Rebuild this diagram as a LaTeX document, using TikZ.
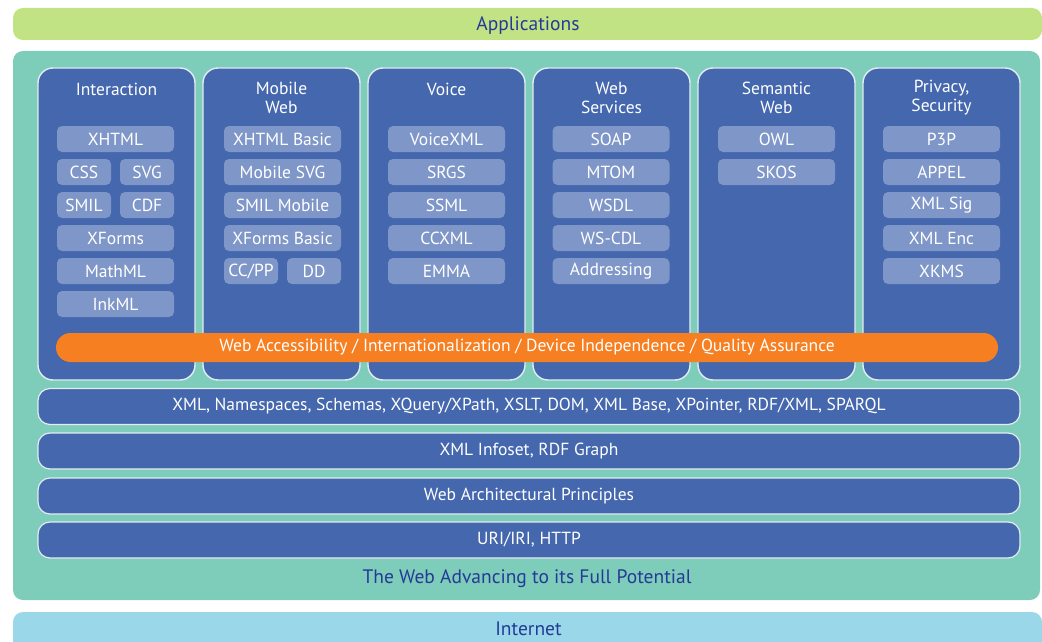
\documentclass[tikz,border=0pt]{standalone}
\usepackage{fontspec}
\setmainfont{PT Sans}
\definecolor{appgreen}{HTML}{C2E383}
\definecolor{tealbg}{HTML}{7ECDBA}
\definecolor{colblue}{HTML}{4467AE}
\definecolor{subblue}{HTML}{7F96C8}
\definecolor{orangebar}{HTML}{F67F22}
\definecolor{netblue}{HTML}{9AD8E9}
\definecolor{darktext}{HTML}{243A96}
\definecolor{edge}{HTML}{E2ECF2}
\tikzset{
  txt/.style={font=\fontsize{17.5}{19}\selectfont},
  column/.style={draw=edge, line width=1.4pt, fill=colblue, rounded corners=15pt, minimum width=157pt, minimum height=312pt, inner sep=0pt},
  head/.style={txt, text=white, align=center, inner sep=0pt},
  sub/.style={fill=subblue, rounded corners=5pt, minimum width=117pt, minimum height=26pt, inner sep=0pt, txt, text=white},
  half/.style={sub, minimum width=54pt},
  band/.style={draw=edge, line width=1.2pt, fill=colblue, rounded corners=12pt, minimum width=982pt, minimum height=36pt, inner sep=0pt, txt, text=white},
  bar/.style={rounded corners=10pt, inner sep=0pt},
  bartext/.style={inner sep=0pt, anchor=base, text=darktext, font=\fontsize{19.5}{22}\selectfont},
}
\begin{document}
\begin{tikzpicture}[x=1pt,y=-1pt]
\useasboundingbox (0,0) rectangle (1042,642);
% top and bottom bars
\node[bar, fill=appgreen, minimum width=1029pt, minimum height=32pt] (apps) at (527.5,24) {};
\node[bartext] (appstext) at (528,30.5) {Applications};
\node[bar, fill=tealbg, minimum width=1027pt, minimum height=549pt] (web) at (526.5,325.5) {};
\node[bar, fill=netblue, minimum width=1029pt, minimum height=40pt] (net) at (527.5,632) {};
\node[bartext] (nettext) at (528.5,635) {Internet};
\node[bartext] (potential) at (527,583.5) {The Web Advancing to its Full Potential};
% columns
\foreach \n/\cx in {c1/116.5,c2/281.5,c3/446.5,c4/611.5,c5/776.5,c6/941.5}
  \node[column] (\n) at (\cx,224) {};
% headers
\node[head] (h1) at (116.5,89) {Interaction};
\node[head] (h2) at (281.5,98) {Mobile\\Web};
\node[head] (h3) at (446.5,89) {Voice};
\node[head] (h4) at (611.5,98) {Web\\Services};
\node[head] (h5) at (776.5,98) {Semantic\\Web};
\node[head] (h6) at (941.5,98) {Privacy,\\Security};
% Interaction
\node[sub] (xhtml) at (115.5,139) {XHTML};
\node[half] (css) at (84,172) {CSS};
\node[half] (svg) at (147,172) {SVG};
\node[half] (smil) at (84,205) {SMIL};
\node[half] (cdf) at (147,205) {CDF};
\node[sub] (xforms) at (115.5,238) {XForms};
\node[sub] (mathml) at (115.5,271) {MathML};
\node[sub] (inkml) at (115.5,304) {InkML};
% Mobile Web
\node[sub] (xhtmlb) at (282.5,139) {XHTML Basic};
\node[sub] (msvg) at (282.5,172) {Mobile SVG};
\node[sub] (smilm) at (282.5,205) {SMIL Mobile};
\node[sub] (xformsb) at (282.5,238) {XForms Basic};
\node[half] (ccpp) at (251,271) {CC/PP};
\node[half] (dd) at (314,271) {DD};
% Voice
\node[sub] (voicexml) at (446.5,139) {VoiceXML};
\node[sub] (srgs) at (446.5,172) {SRGS};
\node[sub] (ssml) at (446.5,205) {SSML};
\node[sub] (ccxml) at (446.5,238) {CCXML};
\node[sub] (emma) at (446.5,271) {EMMA};
% Web Services
\node[sub] (soap) at (611,139) {SOAP};
\node[sub] (mtom) at (611,172) {MTOM};
\node[sub] (wsdl) at (611,205) {WSDL};
\node[sub] (wscdl) at (611,238) {WS-CDL};
\node[sub] (addr) at (611,271) {Addressing};
% Semantic Web
\node[sub] (owl) at (776.5,139) {OWL};
\node[sub] (skos) at (776.5,172) {SKOS};
% Privacy
\node[sub] (p3p) at (941.5,139) {P3P};
\node[sub] (appel) at (941.5,172) {APPEL};
\node[sub] (xmlsig) at (941.5,205) {XML Sig};
\node[sub] (xmlenc) at (941.5,238) {XML Enc};
\node[sub] (xkms) at (941.5,271) {XKMS};
% orange bar
\node[fill=orangebar, rounded corners=14.5pt, minimum width=942pt, minimum height=29pt, inner sep=0pt, txt, text=white] (wai) at (527,347.5) {Web Accessibility / Internationalization / Device Independence / Quality Assurance};
% bands
\node[band] (xml) at (529,406.5) {XML, Namespaces, Schemas, XQuery/XPath, XSLT, DOM, XML Base, XPointer, RDF/XML, SPARQL};
\node[band] (infoset) at (529,451) {XML Infoset, RDF Graph};
\node[band] (arch) at (529,496) {Web Architectural Principles};
\node[band] (uri) at (529,540) {URI/IRI, HTTP};
\end{tikzpicture}
\end{document}
